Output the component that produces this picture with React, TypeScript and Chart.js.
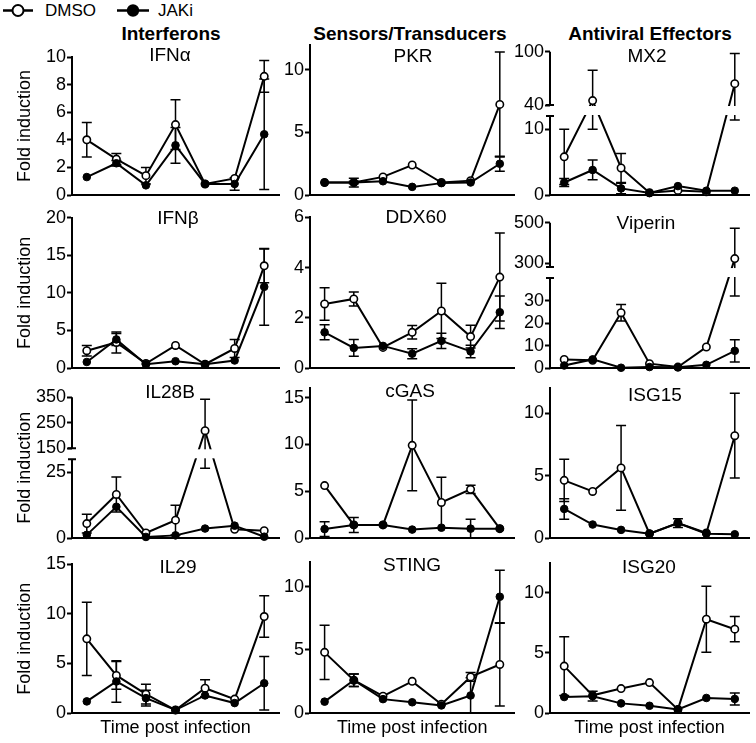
import React, { useEffect, useRef } from 'react';
import { Chart, registerables, LinearScale } from 'chart.js';

Chart.register(...registerables);

const FONT = '"Liberation Sans", Arial, Helvetica, sans-serif';
Chart.defaults.font.family = FONT;
Chart.defaults.color = '#000';

// ---------- data ----------
const TIME_POINTS = ['t1', 't2', 't3', 't4', 't5', 't6', 't7'];
const SERIES = ['DMSO', 'JAKi'];

const IFNA_DMSO = [4.0, 2.6, 1.4, 5.1, 0.8, 1.2, 8.6];
const IFNA_DMSO_SD = [1.25, 0.4, 0.6, 1.8, 0, 0, 1.15];
const IFNA_JAKI = [1.3, 2.3, 0.7, 3.6, 0.8, 0.8, 4.4];
const IFNA_JAKI_SD = [0, 0.2, 0, 1.3, 0, 0.45, 4.0];
const IFNA_TICKS = [0, 2, 4, 6, 8, 10];

const PKR_DMSO = [1.0, 1.0, 1.45, 2.4, 1.0, 1.15, 7.25];
const PKR_DMSO_SD = [0, 0.1, 0, 0, 0, 0, 4.2];
const PKR_JAKI = [1.0, 1.0, 1.1, 0.65, 0.95, 1.0, 2.5];
const PKR_JAKI_SD = [0, 0.35, 0, 0, 0, 0, 0.6];
const PKR_TICKS = [0, 5, 10];

const MX2_DMSO = [5.8, 45, 4.1, 0.35, 0.7, 0.5, 64];
const MX2_DMSO_SD = [4.2, 34, 2.2, 0, 0, 0, 34];
const MX2_DMSO_SD_LOW = [4.2, 35, 2.2, 0, 0, 0, 52.6];
const MX2_JAKI = [1.9, 3.8, 1.0, 0.3, 1.35, 0.65, 0.65];
const MX2_JAKI_SD = [0.6, 1.5, 0.8, 0, 0, 0, 0];
const MX2_TICKS = [0, 10, 40, 100];
const MX2_BREAK = [12, 40];

const IFNB_DMSO = [2.3, 3.4, 0.6, 3.0, 0.5, 2.6, 13.6];
const IFNB_DMSO_SD = [0.7, 1.4, 0, 0, 0, 1.2, 2.25];
const IFNB_JAKI = [0.8, 3.8, 0.5, 0.9, 0.5, 1.0, 10.8];
const IFNB_JAKI_SD = [0, 0.8, 0, 0, 0, 0, 5.1];
const IFNB_TICKS = [0, 5, 10, 15, 20];

const DDX60_DMSO = [2.55, 2.75, 0.82, 1.42, 2.27, 1.25, 3.62];
const DDX60_DMSO_SD = [0.65, 0.28, 0, 0.27, 1.1, 0.45, 1.75];
const DDX60_JAKI = [1.42, 0.8, 0.88, 0.57, 1.08, 0.66, 2.22];
const DDX60_JAKI_SD = [0.3, 0.33, 0, 0.2, 0.3, 0.25, 0.65];
const DDX60_TICKS = [0, 2, 4, 6];

const VIPERIN_DMSO = [3.9, 3.5, 24.6, 2.0, 0.5, 9.4, 322];
const VIPERIN_DMSO_SD = [0, 0, 3.7, 0, 0, 0, 150];
const VIPERIN_DMSO_SD_LOW = [0, 0, 3.7, 0, 0, 0, 290];
const VIPERIN_JAKI = [1.2, 3.9, 0.2, 0.5, 0.4, 1.5, 7.7];
const VIPERIN_JAKI_SD = [0, 0, 0, 0, 0, 0, 4.9];
const VIPERIN_TICKS = [0, 10, 20, 30, 300, 500];
const VIPERIN_BREAK = [40, 280];

const IL28B_DMSO = [5.5, 16.6, 1.9, 6.8, 219, 3.3, 2.8];
const IL28B_DMSO_SD = [3.6, 6.7, 0, 5.7, 123, 0, 0];
const IL28B_DMSO_SD_LOW = [3.6, 6.7, 0, 5.7, 192.4, 0, 0];
const IL28B_JAKI = [1.2, 11.9, 0.4, 1.0, 3.6, 4.7, 0.5];
const IL28B_JAKI_SD = [0, 0, 0, 0, 0, 0, 0];
const IL28B_TICKS = [0, 25, 150, 250, 350];
const IL28B_BREAK = [30, 150];

const CGAS_DMSO = [5.6, 1.4, 1.4, 9.9, 3.8, 5.2, 1.0];
const CGAS_DMSO_SD = [0, 0, 0, 4.85, 2.7, 0.45, 0];
const CGAS_JAKI = [0.95, 1.4, 1.4, 0.9, 1.1, 1.0, 1.0];
const CGAS_JAKI_SD = [0.8, 0.8, 0, 0, 0, 1.0, 0];
const CGAS_TICKS = [0, 5, 10, 15];

const ISG15_DMSO = [4.62, 3.73, 5.62, 0.35, 1.2, 0.4, 8.2];
const ISG15_DMSO_SD = [1.7, 0, 3.4, 0, 0, 0, 3.4];
const ISG15_JAKI = [2.33, 1.08, 0.65, 0.35, 1.2, 0.35, 0.3];
const ISG15_JAKI_SD = [0.82, 0, 0, 0, 0.35, 0, 0];
const ISG15_TICKS = [0, 5, 10];

const IL29_DMSO = [7.48, 3.79, 1.9, 0.3, 2.5, 1.4, 9.73];
const IL29_DMSO_SD = [3.7, 1.4, 1.0, 0, 0.85, 0, 2.1];
const IL29_JAKI = [1.17, 3.18, 1.5, 0.3, 1.77, 1.0, 3.0];
const IL29_JAKI_SD = [0, 2.1, 0.8, 0, 0, 0, 2.7];
const IL29_TICKS = [0, 5, 10, 15];

const STING_DMSO = [4.81, 2.6, 1.33, 2.51, 0.7, 2.86, 3.85];
const STING_DMSO_SD = [2.15, 0.5, 0, 0, 0, 0.35, 3.3];
const STING_JAKI = [0.9, 2.6, 1.1, 0.85, 0.6, 1.39, 9.22];
const STING_JAKI_SD = [0, 0.5, 0, 0, 0, 1.4, 2.1];
const STING_TICKS = [0, 5, 10];

const ISG20_DMSO = [3.9, 1.47, 2.03, 2.53, 0.3, 7.8, 6.97];
const ISG20_DMSO_SD = [2.45, 0, 0, 0, 0, 2.75, 1.05];
const ISG20_JAKI = [1.33, 1.4, 0.8, 0.6, 0.3, 1.25, 1.17];
const ISG20_JAKI_SD = [0, 0.4, 0, 0, 0, 0, 0.5];
const ISG20_TICKS = [0, 5, 10];

const GROUPS = ['Interferons', 'Sensors/Transducers', 'Antiviral Effectors'];

// ---------- layout ----------
const COLS = [
  { cx: 0, cw: 285, L: 72, R: 279, head: 171 },
  { cx: 262, cw: 258, L: 310, R: 515, head: 410 },
  { cx: 500, cw: 256, L: 550, R: 749, head: 650 },
];
const ROWS = [
  { cy: 30, ch: 177, B: 195 },
  { cy: 200, ch: 180, B: 368 },
  { cy: 375, ch: 175, B: 538 },
  { cy: 548, ch: 195, B: 713 },
];

type Panel = {
  name: string; col: number; row: number; T: number; B?: number; tx: number; ty: number;
  max: number; ticks: number[]; brk?: number[]; brkPix?: number[];
  dmso: number[]; dmsoSd: number[]; dmsoSdLow?: number[]; jaki: number[]; jakiSd: number[];
};

const PANELS: Panel[] = [
  { name: 'IFNα', col: 0, row: 0, T: 57, tx: 170, ty: 61, max: 10, ticks: IFNA_TICKS, dmso: IFNA_DMSO, dmsoSd: IFNA_DMSO_SD, jaki: IFNA_JAKI, jakiSd: IFNA_JAKI_SD },
  { name: 'PKR', col: 1, row: 0, T: 45, tx: 413, ty: 61.5, max: 12, ticks: PKR_TICKS, dmso: PKR_DMSO, dmsoSd: PKR_DMSO_SD, jaki: PKR_JAKI, jakiSd: PKR_JAKI_SD },
  { name: 'MX2', col: 2, row: 0, T: 51.7, tx: 647, ty: 61.5, max: 100, ticks: MX2_TICKS, brk: MX2_BREAK, brkPix: [116, 105], dmso: MX2_DMSO, dmsoSd: MX2_DMSO_SD, dmsoSdLow: MX2_DMSO_SD_LOW, jaki: MX2_JAKI, jakiSd: MX2_JAKI_SD },
  { name: 'IFNβ', col: 0, row: 1, T: 217.7, tx: 178, ty: 224, max: 20, ticks: IFNB_TICKS, dmso: IFNB_DMSO, dmsoSd: IFNB_DMSO_SD, jaki: IFNB_JAKI, jakiSd: IFNB_JAKI_SD },
  { name: 'DDX60', col: 1, row: 1, T: 217.3, tx: 416, ty: 223, max: 6, ticks: DDX60_TICKS, dmso: DDX60_DMSO, dmsoSd: DDX60_DMSO_SD, jaki: DDX60_JAKI, jakiSd: DDX60_JAKI_SD },
  { name: 'Viperin', col: 2, row: 1, T: 222.7, B: 369, tx: 646, ty: 229, max: 500, ticks: VIPERIN_TICKS, brk: VIPERIN_BREAK, brkPix: [278.3, 267.3], dmso: VIPERIN_DMSO, dmsoSd: VIPERIN_DMSO_SD, dmsoSdLow: VIPERIN_DMSO_SD_LOW, jaki: VIPERIN_JAKI, jakiSd: VIPERIN_JAKI_SD },
  { name: 'IL28B', col: 0, row: 2, T: 397.3, tx: 170, ty: 398, max: 350, ticks: IL28B_TICKS, brk: IL28B_BREAK, brkPix: [459.3, 448.3], dmso: IL28B_DMSO, dmsoSd: IL28B_DMSO_SD, dmsoSdLow: IL28B_DMSO_SD_LOW, jaki: IL28B_JAKI, jakiSd: IL28B_JAKI_SD },
  { name: 'cGAS', col: 1, row: 2, T: 388.3, tx: 410, ty: 397, max: 16, ticks: CGAS_TICKS, dmso: CGAS_DMSO, dmsoSd: CGAS_DMSO_SD, jaki: CGAS_JAKI, jakiSd: CGAS_JAKI_SD },
  { name: 'ISG15', col: 2, row: 2, T: 388.3, tx: 655, ty: 401, max: 12, ticks: ISG15_TICKS, dmso: ISG15_DMSO, dmsoSd: ISG15_DMSO_SD, jaki: ISG15_JAKI, jakiSd: ISG15_JAKI_SD },
  { name: 'IL29', col: 0, row: 3, T: 564.3, tx: 178, ty: 572.5, max: 15, ticks: IL29_TICKS, dmso: IL29_DMSO, dmsoSd: IL29_DMSO_SD, jaki: IL29_JAKI, jakiSd: IL29_JAKI_SD },
  { name: 'STING', col: 1, row: 3, T: 561.7, tx: 412, ty: 570.5, max: 12, ticks: STING_TICKS, dmso: STING_DMSO, dmsoSd: STING_DMSO_SD, jaki: STING_JAKI, jakiSd: STING_JAKI_SD },
  { name: 'ISG20', col: 2, row: 3, T: 562.7, tx: 649, ty: 573, max: 12.5, ticks: ISG20_TICKS, dmso: ISG20_DMSO, dmsoSd: ISG20_DMSO_SD, jaki: ISG20_JAKI, jakiSd: ISG20_JAKI_SD },
];

// ---------- broken y scale ----------
type Seg = { min: number; max: number; f0: number; f1: number };
const BREAKS = new WeakMap<HTMLCanvasElement, Seg[]>();

function brokenFrac(segs: Seg[], v: number) {
  const [a, b] = segs;
  if (v <= a.max) return a.f0 + ((v - a.min) / (a.max - a.min)) * (a.f1 - a.f0);
  if (v >= b.min) return b.f0 + ((v - b.min) / (b.max - b.min)) * (b.f1 - b.f0);
  return a.f1 + ((v - a.max) / (b.min - a.max)) * (b.f0 - a.f1);
}

class BrokenScale extends (LinearScale as any) {
  static id = 'broken';
  static defaults = (LinearScale as any).defaults;
  getPixelForValue(value: number) {
    const segs = BREAKS.get(this.chart.canvas);
    if (!segs) return super.getPixelForValue(value);
    const f = brokenFrac(segs, value);
    return this.bottom - f * (this.bottom - this.top);
  }
  getValueForPixel(pixel: number) {
    const segs = BREAKS.get(this.chart.canvas);
    if (!segs) return super.getValueForPixel(pixel);
    const f = (this.bottom - pixel) / (this.bottom - this.top);
    const [a, b] = segs;
    if (f <= a.f1) return a.min + ((f - a.f0) / (a.f1 - a.f0)) * (a.max - a.min);
    if (f >= b.f0) return b.min + ((f - b.f0) / (b.f1 - b.f0)) * (b.max - b.min);
    return a.max + ((f - a.f1) / (b.f0 - a.f1)) * (b.min - a.max);
  }
}
Chart.register(BrokenScale as any);

// ---------- plugins ----------
const errorBarPlugin = {
  id: 'errorBars',
  beforeDatasetsDraw(chart: any) {
    const ctx = chart.ctx;
    const ys = chart.scales.y;
    ctx.save();
    ctx.strokeStyle = '#000';
    ctx.lineWidth = 1.5;
    chart.data.datasets.forEach((ds: any, i: number) => {
      const meta = chart.getDatasetMeta(i);
      meta.data.forEach((pt: any, j: number) => {
        const v = ds.data[j];
        const up = ds.errUp[j] || 0;
        const lo = ds.errLo[j] || 0;
        if (!up && !lo) return;
        const x = pt.x;
        const yTop = ys.getPixelForValue(v + up);
        const lowVal = Math.max(0, v - lo);
        const yBot = ys.getPixelForValue(lowVal);
        ctx.beginPath();
        ctx.moveTo(x, yTop);
        ctx.lineTo(x, yBot);
        if (up) { ctx.moveTo(x - 5, yTop); ctx.lineTo(x + 5, yTop); }
        if (lo && lowVal > 0) { ctx.moveTo(x - 5, yBot); ctx.lineTo(x + 5, yBot); }
        ctx.stroke();
      });
    });
    ctx.restore();
  },
};

function decoPlugin(p: Panel, cy: number) {
  return {
    id: 'panelDeco',
    afterDatasetsDraw(chart: any) {
      const { ctx, chartArea } = chart;
      const ys = chart.scales.y;
      ctx.save();
      if (p.brk) {
        const yLowTop = ys.getPixelForValue(p.brk[0]);
        const yUpBot = ys.getPixelForValue(p.brk[1]);
        ctx.fillStyle = '#fff';
        ctx.fillRect(chartArea.left + 1.5, yUpBot + 1, chartArea.right - chartArea.left, yLowTop - yUpBot - 2);
        const x = chartArea.left;
        ctx.strokeStyle = '#000';
        ctx.lineWidth = 2;
        ctx.beginPath();
        ctx.moveTo(x, chartArea.bottom + 1);
        ctx.lineTo(x, yLowTop);
        ctx.moveTo(x, yUpBot);
        ctx.lineTo(x, chartArea.top);
        ctx.moveTo(x - 4, yLowTop);
        ctx.lineTo(x + 4, yLowTop);
        ctx.moveTo(x - 4, yUpBot);
        ctx.lineTo(x + 4, yUpBot);
        ctx.stroke();
      }
      ctx.fillStyle = '#000';
      ctx.font = `19px ${FONT}`;
      ctx.textAlign = 'center';
      ctx.textBaseline = 'alphabetic';
      ctx.fillText(p.name, p.tx - COLS[p.col].cx, p.ty - cy);
      ctx.restore();
    },
  };
}

// ---------- components ----------
function PanelChart({ p }: { p: Panel }) {
  const ref = useRef<HTMLCanvasElement>(null);
  const col = COLS[p.col];
  const row = ROWS[p.row];
  useEffect(() => {
    const canvas = ref.current!;
    const B = p.B ?? row.B;
    if (p.brk && p.brkPix) {
      const H = B - p.T;
      BREAKS.set(canvas, [
        { min: 0, max: p.brk[0], f0: 0, f1: (B - p.brkPix[0]) / H },
        { min: p.brk[1], max: p.max, f0: (B - p.brkPix[1]) / H, f1: 1 },
      ]);
    }
    const common = { borderColor: '#000', borderWidth: 2, pointBorderColor: '#000', tension: 0, clip: false as any };
    const chart = new Chart(canvas, {
      type: 'line',
      data: {
        labels: TIME_POINTS,
        datasets: [
          { ...common, label: SERIES[0], data: p.dmso, errUp: p.dmsoSd, errLo: p.dmsoSdLow ?? p.dmsoSd, pointRadius: 3.7, pointBorderWidth: 1.6, pointBackgroundColor: '#fff', order: 1 } as any,
          { ...common, label: SERIES[1], data: p.jaki, errUp: p.jakiSd, errLo: p.jakiSd, pointRadius: 3.8, pointBorderWidth: 1, pointBackgroundColor: '#000', order: 0 } as any,
        ],
      },
      options: {
        responsive: false,
        maintainAspectRatio: false,
        animation: false,
        devicePixelRatio: 1,
        events: [],
        layout: { padding: { top: p.T - row.cy, right: col.cx + col.cw - col.R, bottom: 0, left: 0 } },
        plugins: { legend: { display: false }, tooltip: { enabled: false }, title: { display: false } },
        scales: {
          x: {
            type: 'category',
            offset: true,
            grid: { display: false },
            border: { display: true, color: '#000', width: 2 },
            ticks: { display: false },
            title: {
              display: p.row === 3,
              text: 'Time post infection',
              color: '#000',
              font: { size: 18, family: FONT },
              padding: { top: 0, bottom: 4 },
            },
            afterFit: (s: any) => { s.height = row.cy + row.ch - B; },
          },
          y: {
            type: (p.brk ? 'broken' : 'linear') as any,
            min: 0,
            max: p.max,
            afterBuildTicks: (s: any) => { s.ticks = p.ticks.map((v) => ({ value: v })); },
            grid: { drawOnChartArea: false, drawTicks: true, tickLength: 5, tickWidth: 2, tickColor: '#000', color: '#000' },
            border: { display: !p.brk, color: '#000', width: 2 },
            ticks: { color: '#000', font: { size: 18, family: FONT }, padding: 1, autoSkip: false, callback: (v: any) => String(v) },
            title: {
              display: p.col === 0,
              text: 'Fold induction',
              color: '#000',
              font: { size: 18, family: FONT },
              padding: { top: 14, bottom: 0 },
            },
            afterFit: (s: any) => { s.width = col.L - col.cx; },
          } as any,
        },
      },
      plugins: [errorBarPlugin, decoPlugin(p, row.cy)],
    });
    return () => chart.destroy();
  }, []);
  return (
    <canvas
      ref={ref}
      width={col.cw}
      height={row.ch}
      style={{ position: 'absolute', left: col.cx, top: row.cy, width: col.cw, height: row.ch }}
    />
  );
}

export default function App() {
  return (
    <div style={{ position: 'absolute', left: 0, top: 0, width: 756, height: 743, background: '#fff', fontFamily: FONT, color: '#000', overflow: 'hidden' }}>
      <svg width={160} height={24} style={{ position: 'absolute', left: 0, top: 0 }}>
        <line x1={3} y1={10.5} x2={33} y2={10.5} stroke="#000" strokeWidth={2.5} />
        <circle cx={18} cy={10.5} r={5.5} fill="#fff" stroke="#000" strokeWidth={2} />
        <line x1={117} y1={10.5} x2={149} y2={10.5} stroke="#000" strokeWidth={2.5} />
        <circle cx={133} cy={10.5} r={6.2} fill="#000" />
      </svg>
      <div style={{ position: 'absolute', left: 45, top: 2, fontSize: 17, lineHeight: '17px', whiteSpace: 'nowrap' }}>{SERIES[0]}</div>
      <div style={{ position: 'absolute', left: 158, top: 2, fontSize: 17, lineHeight: '17px', whiteSpace: 'nowrap' }}>{SERIES[1]}</div>
      {GROUPS.map((g, i) => (
        <div key={g} style={{ position: 'absolute', left: COLS[i].head - 150, width: 300, top: 24, textAlign: 'center', fontSize: 19, lineHeight: '19px', fontWeight: 'bold', whiteSpace: 'nowrap' }}>{g}</div>
      ))}
      {PANELS.map((p) => (
        <PanelChart key={p.name} p={p} />
      ))}
    </div>
  );
}
